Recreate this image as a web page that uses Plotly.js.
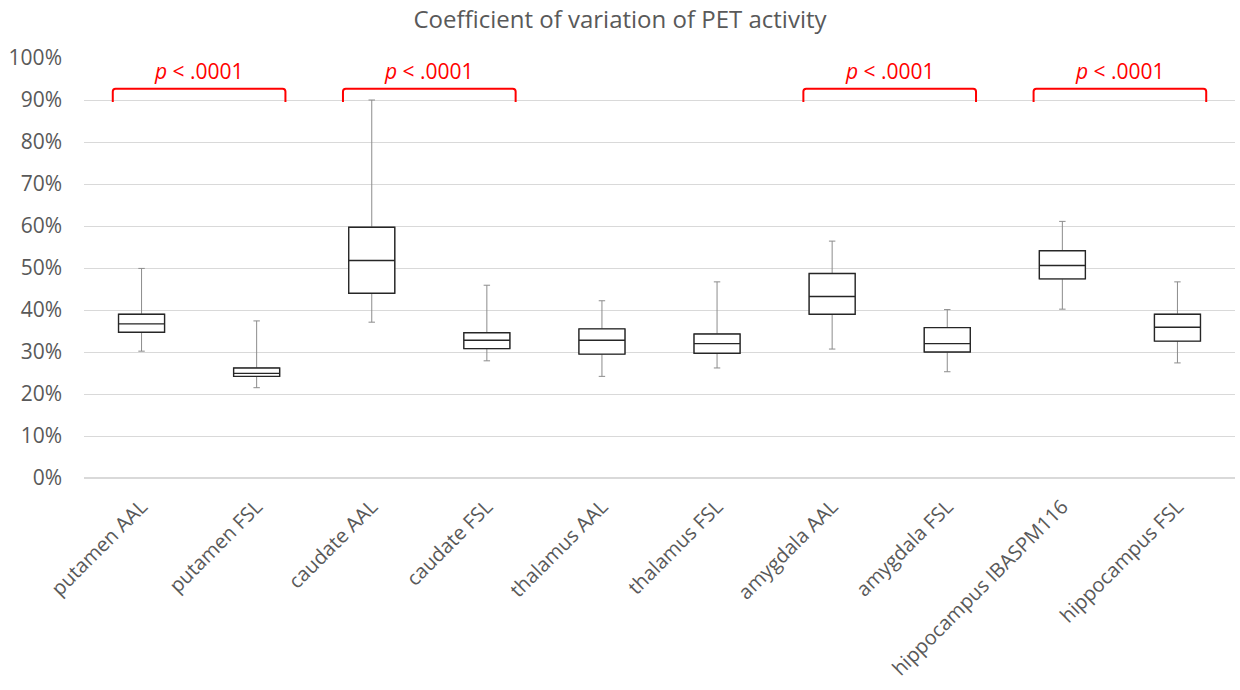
<!DOCTYPE html>
<html>
<head>
<meta charset="utf-8">
<script src="https://cdn.plot.ly/plotly-3.0.1.min.js"></script>
<style>
  html, body { margin: 0; padding: 0; background: #ffffff; }
  #chart { width: 1240px; height: 690px; }
</style>
</head>
<body>
<div id="chart"></div>
<script>
// Regions and atlas combinations
const regions = [
  'putamen AAL', 'putamen FSL', 'caudate AAL', 'caudate FSL',
  'thalamus AAL', 'thalamus FSL', 'amygdala AAL', 'amygdala FSL',
  'hippocampus IBASPM116', 'hippocampus FSL'
];

// Box statistics of the coefficient of variation (%)
const whiskerLow  = [30.2, 21.5, 37.1, 27.9, 24.2, 26.2, 30.7, 25.3, 40.2, 27.4];
const quartile1   = [34.7, 24.2, 44.0, 30.8, 29.5, 29.7, 39.0, 30.0, 47.4, 32.6];
const medians     = [36.7, 24.9, 51.8, 32.8, 32.8, 32.0, 43.2, 32.0, 50.6, 35.9];
const quartile3   = [39.0, 26.2, 59.7, 34.6, 35.5, 34.3, 48.7, 35.8, 54.1, 39.0];
const whiskerHigh = [49.9, 37.4, 90.0, 45.9, 42.2, 46.7, 56.4, 40.1, 61.1, 46.7];

// Pairwise comparisons marked as significant (indexes into regions)
const comparisons = [[0, 1], [2, 3], [6, 7], [8, 9]];
const comparisonLabel = '<i>p</i> &lt; .0001';

const FONT = '"Open Sans", "Noto Sans", sans-serif';
const GREY_TEXT = '#595959';
const RED = '#ff0000';

// Whiskers in grey, boxes drawn on top in dark outline
const whiskerTrace = {
  type: 'box',
  x: regions,
  q1: quartile1,
  median: medians,
  q3: quartile3,
  lowerfence: whiskerLow,
  upperfence: whiskerHigh,
  width: 0.4,
  whiskerwidth: 0.14,
  line: { color: '#8c8c8c', width: 1 },
  fillcolor: 'rgba(255,255,255,0)',
  boxpoints: false,
  hoverinfo: 'skip',
  showlegend: false
};

const boxTrace = {
  type: 'box',
  x: regions,
  q1: quartile1,
  median: medians,
  q3: quartile3,
  lowerfence: quartile1,
  upperfence: quartile3,
  width: 0.4,
  whiskerwidth: 0,
  line: { color: '#262626', width: 1.4 },
  fillcolor: '#ffffff',
  boxpoints: false,
  hoverinfo: 'skip',
  showlegend: false
};

// Brackets above each compared pair
const bracketTop = 92.7, bracketBottom = 89.5;
const shapes = comparisons.map(([a, b]) => {
  const x0 = a - 0.25, x1 = b + 0.25;
  const r = 0.025, ry = 0.7;
  return {
    type: 'path',
    xref: 'x', yref: 'y',
    path: `M ${x0} ${bracketBottom} L ${x0} ${bracketTop - ry} Q ${x0} ${bracketTop} ${x0 + r} ${bracketTop} ` +
          `L ${x1 - r} ${bracketTop} Q ${x1} ${bracketTop} ${x1} ${bracketTop - ry} L ${x1} ${bracketBottom}`,
    line: { color: RED, width: 2 }
  };
});

const annotations = comparisons.map(([a, b]) => ({
  xref: 'x', yref: 'y',
  x: (a + b) / 2,
  y: 96.8,
  text: comparisonLabel,
  showarrow: false,
  xanchor: 'center',
  yanchor: 'middle',
  font: { family: FONT, size: 21, color: RED }
}));

const layout = {
  width: 1240,
  height: 690,
  margin: { l: 84, r: 5, t: 58, b: 212 },
  paper_bgcolor: '#ffffff',
  plot_bgcolor: '#ffffff',
  boxmode: 'overlay',
  title: {
    text: 'Coefficient of variation of PET activity',
    font: { family: FONT, size: 24, color: GREY_TEXT },
    xref: 'container', x: 0.5, xanchor: 'center',
    yref: 'container', y: 1 - 20 / 690, yanchor: 'middle'
  },
  xaxis: {
    type: 'category',
    categoryorder: 'array',
    categoryarray: regions,
    range: [-0.5, regions.length - 0.5],
    showgrid: false,
    zeroline: false,
    showline: false,
    ticks: '',
    tickangle: -45,
    ticklabelstandoff: 12,
    tickfont: { family: FONT, size: 20, color: GREY_TEXT },
    fixedrange: true
  },
  yaxis: {
    range: [0, 100],
    dtick: 10,
    tick0: 0,
    ticksuffix: '%',
    showgrid: true,
    gridcolor: '#d9d9d9',
    gridwidth: 1,
    zeroline: true,
    zerolinecolor: '#d9d9d9',
    zerolinewidth: 1.2,
    showline: false,
    ticks: '',
    ticklabelstandoff: 21,
    tickfont: { family: FONT, size: 21, color: GREY_TEXT },
    fixedrange: true
  },
  shapes: shapes,
  annotations: annotations
};

Plotly.newPlot('chart', [whiskerTrace, boxTrace], layout, { displayModeBar: false, staticPlot: true });
</script>
</body>
</html>
